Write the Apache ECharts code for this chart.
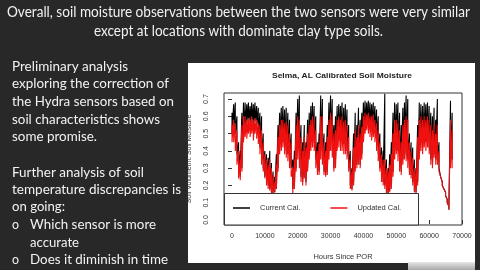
<!DOCTYPE html>
<html><head><meta charset="utf-8">
<script src="https://cdn.jsdelivr.net/npm/echarts@6/dist/echarts.min.js"></script>
<style>html,body{margin:0;padding:0;background:#282828;overflow:hidden}#c{width:480px;height:270px}</style>
</head><body><div id="c"></div>
<script>
// ---- data ----
const hours = [
0,500,1000,1500,2000,2500,3000,3500,4000,4500,
5000,5500,6000,6500,7000,7500,8000,8500,9000,9500,
10000,10500,11000,11500,12000,12500,13000,13500,14000,14500,
15000,15500,16000,16500,17000,17500,18000,18500,19000,19500,
20000,20500,21000,21500,22000,22500,23000,23500,24000,24500,
25000,25500,26000,26500,27000,27500,28000,28500,29000,29500,
30000,30500,31000,31500,32000,32500,33000,33500,34000,34500,
35000,35500,36000,36500,37000,37500,38000,38500,39000,39500,
40000,40500,41000,41500,42000,42500,43000,43500,44000,44500,
45000,45500,46000,46500,47000,47500,48000,48500,49000,49500,
50000,50500,51000,51500,52000,52500,53000,53500,54000,54500,
55000,55500,56000,56500,57000,57500,58000,58500,59000,59500,
60000,60500,61000,61500,62000,62500,63000,63500,64000,64500,
65000,65500,66000,66500,67000];
const currentHi = [
.62,.67,.68,.60,.45,.40,.62,.68,.68,.67,
.68,.66,.68,.67,.68,.66,.65,.62,.60,.50,
.40,.38,.36,.40,.33,.28,.25,.38,.55,.62,
.65,.66,.64,.65,.62,.58,.50,.35,.40,.62,
.70,.72,.55,.45,.55,.45,.58,.62,.66,.68,
.66,.60,.45,.50,.72,.70,.50,.45,.55,.68,
.72,.70,.55,.60,.66,.67,.66,.68,.65,.67,
.64,.55,.40,.30,.50,.62,.55,.65,.58,.62,
.68,.69,.68,.69,.68,.67,.68,.66,.64,.60,
.50,.42,.40,.73,.35,.30,.38,.45,.62,.68,
.67,.68,.62,.55,.65,.68,.72,.70,.50,.45,
.42,.35,.30,.55,.68,.67,.66,.68,.67,.68,
.66,.62,.60,.65,.58,.70,.45,.30,.22,.20,
.16,.12,.08,.69,.62];
const currentLo = [
.50,.52,.50,.38,.28,.25,.30,.50,.55,.56,
.57,.55,.56,.55,.57,.55,.50,.42,.35,.30,
.25,.22,.20,.18,.16,.15,.16,.18,.30,.42,
.45,.45,.42,.40,.38,.35,.30,.18,.20,.30,
.40,.35,.25,.22,.25,.22,.30,.38,.45,.48,
.45,.35,.28,.28,.40,.35,.28,.26,.28,.40,
.45,.40,.30,.35,.45,.48,.46,.45,.44,.45,
.40,.30,.20,.18,.22,.30,.32,.35,.32,.38,
.50,.55,.56,.55,.55,.52,.54,.50,.45,.38,
.30,.25,.22,.20,.16,.15,.17,.20,.28,.40,
.45,.40,.30,.28,.35,.40,.38,.35,.28,.26,
.22,.17,.16,.22,.40,.45,.42,.48,.45,.46,
.42,.35,.32,.40,.35,.35,.30,.25,.20,.18,
.14,.10,.06,.32,.35];
const updatedHi = [
.55,.58,.56,.52,.40,.35,.55,.60,.60,.58,
.59,.58,.60,.58,.59,.58,.56,.55,.52,.45,
.38,.35,.32,.35,.30,.26,.22,.32,.48,.55,
.58,.58,.56,.57,.55,.50,.45,.30,.35,.55,
.60,.58,.48,.40,.48,.42,.50,.55,.58,.60,
.58,.52,.40,.44,.60,.60,.45,.40,.48,.58,
.62,.60,.50,.52,.58,.60,.58,.60,.57,.58,
.55,.48,.35,.28,.42,.52,.48,.55,.50,.54,
.60,.62,.61,.62,.60,.60,.61,.58,.56,.52,
.45,.38,.35,.35,.30,.28,.32,.38,.50,.58,
.58,.56,.52,.45,.55,.58,.60,.58,.45,.40,
.36,.30,.28,.48,.58,.60,.58,.60,.58,.60,
.58,.55,.52,.56,.50,.55,.40,.29,.22,.20,
.16,.12,.08,.58,.52];
const updatedLo = [
.45,.45,.40,.32,.24,.23,.28,.45,.48,.47,
.50,.48,.50,.46,.50,.47,.44,.38,.32,.28,
.24,.20,.18,.17,.15,.15,.16,.18,.28,.38,
.40,.42,.38,.36,.34,.30,.25,.15,.18,.28,
.35,.30,.22,.20,.24,.20,.28,.35,.40,.42,
.40,.30,.26,.26,.35,.32,.26,.25,.26,.35,
.40,.36,.28,.30,.40,.42,.40,.40,.38,.38,
.35,.28,.18,.17,.20,.28,.30,.32,.30,.35,
.45,.50,.52,.50,.48,.46,.48,.45,.40,.34,
.28,.22,.20,.18,.15,.15,.16,.18,.25,.35,
.38,.34,.28,.26,.32,.35,.34,.30,.26,.24,
.20,.16,.15,.20,.35,.40,.38,.42,.40,.42,
.38,.32,.30,.36,.32,.32,.28,.25,.20,.18,
.14,.10,.06,.30,.30];
const xTicks = [0,10000,20000,30000,40000,50000,60000,70000];
const yTicks = [0,0.1,0.2,0.3,0.4,0.5,0.6,0.7];
const seriesNames = ['Current Cal.','Updated Cal.'];
const chartTitle = 'Selma, AL Calibrated Soil Moisture';
const xName = 'Hours Since POR';
const yName = 'Soil Volumetric Soil Moisture';
const headline = ['Overall, soil moisture observations between the two sensors were very similar',
                  'except at locations with dominate clay type soils.'];
const body = ['Preliminary analysis','exploring the correction of','the Hydra sensors based on',
  'soil characteristics shows','some promise.','Further analysis of soil',
  'temperature discrepancies is','on going:'];
const bullets = [['Which sensor is more','accurate'],['Does it diminish in time']];

// ---- helpers ----
function band(hi, lo){ const d=[]; for(let i=0;i<hours.length;i++){ d.push([hours[i],hi[i]]); d.push([hours[i],lo[i]]); } return d; }
const cv = document.createElement('canvas').getContext('2d');
function fitText(t, x, y, w, size, align, family, weight, fill){
  weight = weight || 'normal';
  cv.font = weight+' '+size+'px '+family;
  const m = cv.measureText(t).width;
  return {type:'text', x:x, y:y, scaleX: w/m, z:10,
    style:{text:t, fontSize:size, fontFamily:family, fontWeight:weight, fill:fill||'#f2f2f2', align:align, verticalAlign:'middle'}};
}
const SF = 'Lato';
const g = [];
g.push({type:'rect', z:-10, shape:{x:188,y:63,width:287,height:200}, style:{fill:'#ffffff'}});
g.push({type:'rect', z:-10, shape:{x:408,y:262,width:67,height:8}, style:{fill:new echarts.graphic.LinearGradient(0,0,0,1,[{offset:0,color:'#e6e6e6'},{offset:1,color:'#a8a8a8'}])}});
g.push({type:'rect', z:3, shape:{x:224.5,y:193.5,width:194,height:31.5}, style:{fill:'#ffffff', stroke:'#333', lineWidth:1}});
g.push(fitText(headline[0], 238.5, 12, 463, 15.5, 'center', SF));
g.push(fitText(headline[1], 238.5, 31, 289, 15.5, 'center', SF));
const bodyY = [66.7,84.3,101.7,120,137.3,172.7,190,207];
const bodyW = [116,157,162,148,85,132,169,53];
body.forEach((t,i)=>g.push(fitText(t, 12, bodyY[i], bodyW[i], 13, 'left', SF)));
g.push(fitText('o', 12, 225, 7, 13, 'left', SF));
g.push(fitText(bullets[0][0], 30, 225, 126, 13, 'left', SF));
g.push(fitText(bullets[0][1], 30, 242.7, 49, 13, 'left', SF));
g.push(fitText('o', 12, 260, 7, 13, 'left', SF));
g.push(fitText(bullets[1][0], 30, 260, 138, 13, 'left', SF));
g.push(fitText(chartTitle, 342, 76, 140, 8, 'center', 'Liberation Sans', 'bold', '#222'));

const chart = echarts.init(document.getElementById('c'), null, {renderer:'canvas'});
chart.setOption({
  animation:false,
  backgroundColor:'transparent',
  textStyle:{fontFamily:'Liberation Sans'},
  grid:{left:224, top:93, width:238, height:132, show:true, borderColor:'#333', borderWidth:1, backgroundColor:'transparent'},
  legend:{data:[{name:seriesNames[0],icon:'rect'},{name:seriesNames[1],icon:'rect'}],
    left:233, top:204, itemWidth:17, itemHeight:1.5, itemGap:30, padding:0,
    textStyle:{fontSize:7.5, color:'#333', padding:[0,0,0,5]}},
  xAxis:{type:'value', min:-2435, max:70000, splitLine:{show:false}, axisLine:{show:false},
    axisTick:{show:true, length:4, customValues:xTicks, lineStyle:{color:'#333'}},
    axisLabel:{customValues:xTicks, margin:8, fontSize:7, color:'#333', formatter:v=>String(v)},
    name:xName, nameLocation:'middle', nameGap:28, nameTextStyle:{fontSize:7.5, color:'#333'}},
  yAxis:{type:'value', min:-0.029, max:0.735, splitLine:{show:false}, axisLine:{show:false},
    axisTick:{show:true, length:4, customValues:yTicks, lineStyle:{color:'#333'}},
    axisLabel:{customValues:yTicks, rotate:90, margin:14, fontSize:7, color:'#333', formatter:v=>v.toFixed(1)},
    name:yName, nameLocation:'middle', nameGap:31, nameTextStyle:{fontSize:7, color:'#333'}},
  series:[
    {name:seriesNames[0], type:'line', data:band(currentHi,currentLo), showSymbol:false, symbol:'none', color:'#000', lineStyle:{width:1.1,color:'#000'}, z:2},
    {name:seriesNames[1], type:'line', data:band(updatedHi,updatedLo), showSymbol:false, symbol:'none', color:'#f01010', lineStyle:{width:1.1,color:'#f01010'}, z:2}
  ],
  graphic:{elements:g}
});
</script></body></html>
